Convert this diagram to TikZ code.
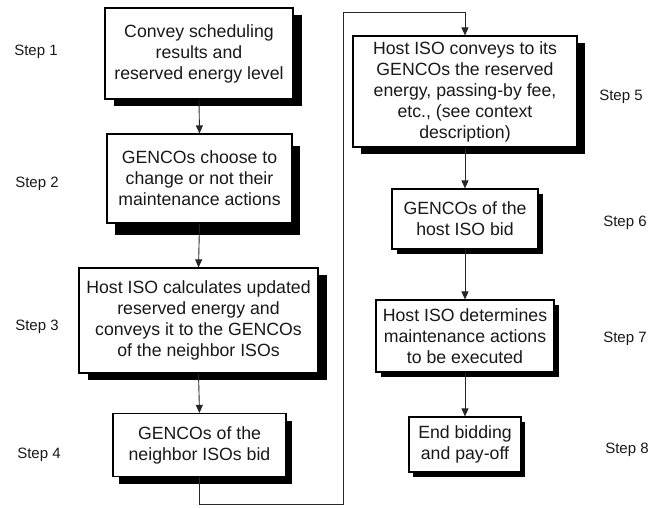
\documentclass[tikz,border=0pt]{standalone}
\usepackage{fontspec}
\setmainfont{Liberation Sans}
\usetikzlibrary{shadows,arrows.meta}
\begin{document}
\begin{tikzpicture}[x=1pt,y=-1pt,
 box/.style={draw=black, line width=1.2pt, fill=white, align=center, inner sep=0pt, font=\fontsize{17.7}{21}\selectfont, text=black!90},
 sh/.style 2 args={drop shadow={shadow xshift=#1, shadow yshift=#2, fill=black, opacity=1}},
 lbl/.style={font=\fontsize{15}{18}\selectfont, text=black!90},
 conn/.style={draw=black!85, line width=0.9pt, -{Triangle[length=8pt,width=7pt]}}]
\useasboundingbox (0,0) rectangle (667,507);

% boxes
\node[box, sh={9pt}{-7pt}, minimum width=188pt, minimum height=91pt] (b1) at (199,53.5)
  {Convey scheduling\\results and\\reserved energy level};
\node[box, sh={8pt}{-12pt}, minimum width=185pt, minimum height=89pt] (b2) at (199.5,178.5)
  {GENCOs choose to\\change or not their\\maintenance actions};
\node[box, sh={9pt}{-7pt}, minimum width=239pt, minimum height=105pt] (b3) at (198.5,320.5)
  {Host ISO calculates updated\\reserved energy and\\conveys it to the GENCOs\\of the neighbor ISOs};
\node[box, sh={6pt}{-7pt}, minimum width=173pt, minimum height=63pt] (b4) at (199.5,445)
  {GENCOs of the\\neighbor ISOs bid};
\node[box, sh={8pt}{-7pt}, minimum width=224pt, minimum height=111pt] (b5) at (465,91.5)
  {Host ISO conveys to its\\GENCOs the reserved\\energy, passing-by fee,\\etc., (see context\\description)};
\node[box, sh={5pt}{-5pt}, minimum width=146pt, minimum height=60pt] (b6) at (465,219)
  {GENCOs of the\\host ISO bid};
\node[box, sh={5pt}{-5pt}, minimum width=178pt, minimum height=72pt] (b7) at (465,336)
  {Host ISO determines\\maintenance actions\\to be executed};
\node[box, sh={4pt}{-5pt}, minimum width=112pt, minimum height=55pt] (b8) at (465,444.5)
  {End bidding\\and pay-off};

% step labels
\node[lbl] (s1) at (36,52) {Step 1};
\node[lbl] (s2) at (37,184) {Step 2};
\node[lbl] (s3) at (37,327) {Step 3};
\node[lbl] (s4) at (39,455) {Step 4};
\node[lbl] (s5) at (621,97) {Step 5};
\node[lbl] (s6) at (625,223) {Step 6};
\node[lbl] (s7) at (625,339) {Step 7};
\node[lbl] (s8) at (627,450) {Step 8};

% connectors
\draw[conn] (b1.south) -- (b2.north);
\draw[conn] (b2.south) -- (b3.north);
\draw[conn] (b3.south) -- (b4.north);
\coordinate (c1) at (343,504);
\coordinate (c2) at (343,12);
\draw[conn] (b4.south) |- (c1) -- (c2) -| (b5.north);
\draw[conn] (b5.south) -- (b6.north);
\draw[conn] (b6.south) -- (b7.north);
\draw[conn] (b7.south) -- (b8.north);
\end{tikzpicture}
\end{document}
